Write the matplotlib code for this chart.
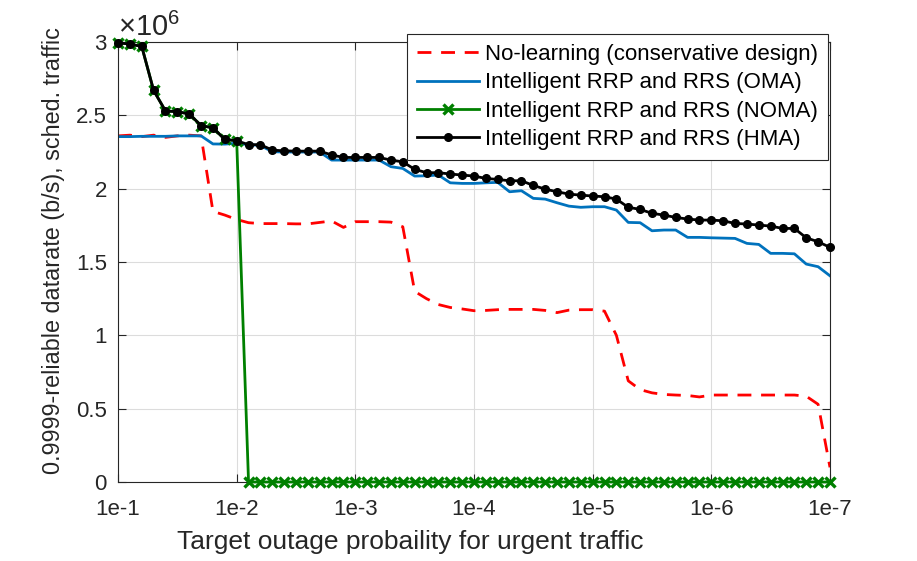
import numpy as np
import matplotlib
matplotlib.use('Agg')
import matplotlib.pyplot as plt

plt.rcParams['font.family'] = ['Liberation Sans', 'DejaVu Sans']
plt.rcParams['mathtext.fontset'] = 'custom'
plt.rcParams['mathtext.rm'] = 'Liberation Sans'

# target outage probability grid, 10 points per decade from 1e-1 down to 1e-7
outage = np.logspace(-1, -7, 61)

# reliable datarate in units of 1e6 b/s
no_learning = [2.36, 2.365, 2.355, 2.365, 2.35, 2.36, 2.365, 2.36, 1.845, 1.82,
               1.79, 1.768, 1.762, 1.762, 1.762, 1.76, 1.76, 1.77, 1.78, 1.736,
               1.775, 1.775, 1.775, 1.772, 1.74, 1.30, 1.25, 1.21, 1.19, 1.18,
               1.168, 1.17, 1.175, 1.177, 1.177, 1.177, 1.17, 1.155, 1.172, 1.175,
               1.175, 1.165, 1.0, 0.69, 0.63, 0.608, 0.597, 0.593, 0.59, 0.58,
               0.593, 0.593, 0.593, 0.593, 0.593, 0.593, 0.593, 0.593, 0.585, 0.53,
               0.10]
oma = [2.355, 2.355, 2.357, 2.357, 2.357, 2.36, 2.36, 2.36, 2.305, 2.304,
       2.31, 2.30, 2.295, 2.252, 2.25, 2.25, 2.25, 2.25, 2.195, 2.195,
       2.195, 2.195, 2.195, 2.15, 2.138, 2.086, 2.088, 2.093, 2.04, 2.036,
       2.036, 2.04, 2.043, 1.979, 1.986, 1.934, 1.929, 1.904, 1.881, 1.873,
       1.877, 1.877, 1.854, 1.77, 1.768, 1.713, 1.718, 1.718, 1.668, 1.668,
       1.665, 1.663, 1.661, 1.627, 1.62, 1.559, 1.559, 1.556, 1.486, 1.468,
       1.406]
noma = [2.995, 2.986, 2.97, 2.67, 2.53, 2.525, 2.51, 2.43, 2.415, 2.336,
        2.327, 0, 0, 0, 0, 0, 0, 0, 0, 0,
        0, 0, 0, 0, 0, 0, 0, 0, 0, 0,
        0, 0, 0, 0, 0, 0, 0, 0, 0, 0,
        0, 0, 0, 0, 0, 0, 0, 0, 0, 0,
        0, 0, 0, 0, 0, 0, 0, 0, 0, 0,
        0]
hma = [2.995, 2.986, 2.97, 2.67, 2.53, 2.525, 2.51, 2.43, 2.415, 2.336,
       2.327, 2.30, 2.30, 2.263, 2.258, 2.256, 2.256, 2.256, 2.23, 2.213,
       2.213, 2.213, 2.213, 2.195, 2.183, 2.132, 2.109, 2.109, 2.10, 2.093,
       2.086, 2.07, 2.063, 2.054, 2.054, 2.022, 1.997, 1.979, 1.963, 1.956,
       1.95, 1.945, 1.929, 1.873, 1.859, 1.832, 1.82, 1.804, 1.793, 1.786,
       1.786, 1.781, 1.763, 1.759, 1.752, 1.745, 1.729, 1.729, 1.665, 1.638,
       1.60]

labels = ['No-learning (conservative design)', 'Intelligent RRP and RRS (OMA)',
          'Intelligent RRP and RRS (NOMA)', 'Intelligent RRP and RRS (HMA)']
xticks = [1e-1, 1e-2, 1e-3, 1e-4, 1e-5, 1e-6, 1e-7]
xticklabels = ['1e-1', '1e-2', '1e-3', '1e-4', '1e-5', '1e-6', '1e-7']
yticks = [0, 0.5, 1, 1.5, 2, 2.5, 3]
yticklabels = ['0', '0.5', '1', '1.5', '2', '2.5', '3']

gray = '#262626'
fig = plt.figure(figsize=(9.17, 5.61), dpi=100)
ax = fig.add_axes([0.1287, 0.1408, 0.7764, 0.7843])

ax.plot(outage, no_learning, '--', color='red', lw=2, dashes=(5, 3.5), label=labels[0])
ax.plot(outage, oma, '-', color='#0072BD', lw=2, label=labels[1])
ax.plot(outage, noma, '-', color='#008000', lw=2, marker='x', ms=6.5, mew=2.4,
        label=labels[2], clip_on=False, zorder=3)
ax.plot(outage, hma, '-', color='black', lw=2, marker='o', ms=5.5,
        label=labels[3], clip_on=False, zorder=4)

ax.set_xscale('log')
ax.set_xlim(1e-1, 1e-7)
ax.set_ylim(0, 3)
ax.set_xticks(xticks)
ax.set_xticklabels(xticklabels)
ax.minorticks_off()
ax.set_yticks(yticks)
ax.set_yticklabels(yticklabels)
ax.tick_params(direction='in', top=True, right=True, length=6, width=0.8,
               colors=gray, labelsize=16)
ax.tick_params(axis='x', pad=12)
ax.tick_params(axis='y', pad=8)
for s in ax.spines.values():
    s.set_color(gray)
    s.set_linewidth(0.8)
ax.grid(True, color='#dcdcdc', lw=0.8)
ax.set_axisbelow(True)

ax.set_xlabel('Target outage probaility for urgent traffic', fontsize=19, color=gray)
ax.xaxis.set_label_coords(0.41, -0.108)
ax.set_ylabel('0.9999-reliable datarate (b/s), sched. traffic', fontsize=16.8, color=gray)
ax.yaxis.set_label_coords(-0.074, 0.527)
ax.text(0.0, 1.0, r'$\times10^{6}$', transform=ax.transAxes, fontsize=21,
        color=gray, ha='left', va='bottom')

leg = ax.legend(loc='upper left', bbox_to_anchor=(0.4438, 0.9394), bbox_transform=fig.transFigure,
                borderaxespad=0, fontsize=16, fancybox=False, framealpha=1,
                edgecolor=gray, handlelength=2.8, handletextpad=0.25,
                labelspacing=0.33, borderpad=0.45)
leg.get_frame().set_linewidth(0.8)
leg.set_zorder(10)

fig.savefig('out.png', dpi=100)
plt.close(fig)
